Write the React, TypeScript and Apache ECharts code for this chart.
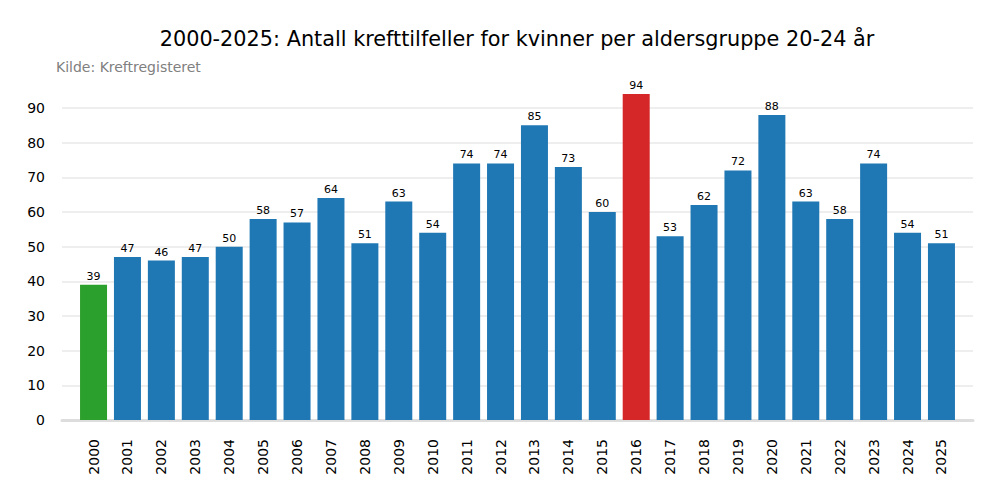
import { useEffect, useRef } from 'react'
import * as echarts from 'echarts'

// Antall krefttilfeller, kvinner 20-24 år
const years = ['2000', '2001', '2002', '2003', '2004', '2005', '2006', '2007', '2008', '2009', '2010', '2011', '2012',
  '2013', '2014', '2015', '2016', '2017', '2018', '2019', '2020', '2021', '2022', '2023', '2024', '2025']
const cases = [39, 47, 46, 47, 50, 58, 57, 64, 51, 63, 54, 74, 74, 85, 73, 60, 94, 53, 62, 72, 88, 63, 58, 74, 54, 51]
const yTicks = [0, 10, 20, 30, 40, 50, 60, 70, 80, 90]

const TITLE = '2000-2025: Antall krefttilfeller for kvinner per aldersgruppe 20-24 år'
const SOURCE = 'Kilde: Kreftregisteret'
const FONT = '"DejaVu Sans", sans-serif'

export default function App() {
  const ref = useRef<HTMLDivElement>(null)

  useEffect(() => {
    document.body.style.margin = '0'
    if (!ref.current) return
    const chart = echarts.init(ref.current, undefined, { renderer: 'svg' })

    const maxV = Math.max(...cases)
    const minV = Math.min(...cases)
    const barData = cases.map((v, i) => ({
      value: [i, v],
      itemStyle: { color: v === maxV ? '#d62728' : v === minV ? '#2ca02c' : '#1f77b4' },
    }))

    chart.setOption({
      animation: false,
      backgroundColor: '#fff',
      textStyle: { fontFamily: FONT },
      graphic: [
        {
          type: 'text', x: 517, y: 39,
          style: { text: TITLE, align: 'center', verticalAlign: 'middle', fontSize: 20.8, fill: '#000', fontFamily: FONT },
        },
        {
          type: 'text', x: 56, y: 67,
          style: { text: SOURCE, align: 'left', verticalAlign: 'middle', fontSize: 14, fill: '#808080', fontFamily: FONT },
        },
      ],
      grid: { left: 62, right: 27, top: 73.3, bottom: 80 },
      xAxis: {
        type: 'value',
        min: -0.93,
        max: 25.93,
        axisLine: { show: true, lineStyle: { color: '#dddddd', width: 3 } },
        axisTick: { show: false },
        splitLine: { show: false },
        axisLabel: {
          customValues: years.map((_, i) => i),
          formatter: (v: number) => years[Math.round(v)] ?? '',
          rotate: 90,
          margin: 19,
          fontSize: 14,
          color: '#000',
          fontFamily: FONT,
        },
      },
      yAxis: {
        type: 'value',
        min: 0,
        max: 100,
        interval: 10,
        axisLine: { show: false },
        axisTick: { show: false },
        axisLabel: {
          showMaxLabel: false,
          formatter: (v: number) => (yTicks.includes(v) ? String(v) : ''),
          fontSize: 14,
          color: '#000',
          margin: 17,
          fontFamily: FONT,
        },
        splitLine: { show: true, showMaxLine: false, lineStyle: { color: '#e8e8e8', width: 1.5 } },
      },
      series: [
        {
          type: 'bar',
          data: barData,
          barWidth: 27,
          label: { show: true, position: 'top', distance: 3, fontSize: 11, color: '#000', fontFamily: FONT },
        },
      ],
    })

    return () => chart.dispose()
  }, [])

  return <div ref={ref} style={{ width: 1000, height: 500 }} />
}
